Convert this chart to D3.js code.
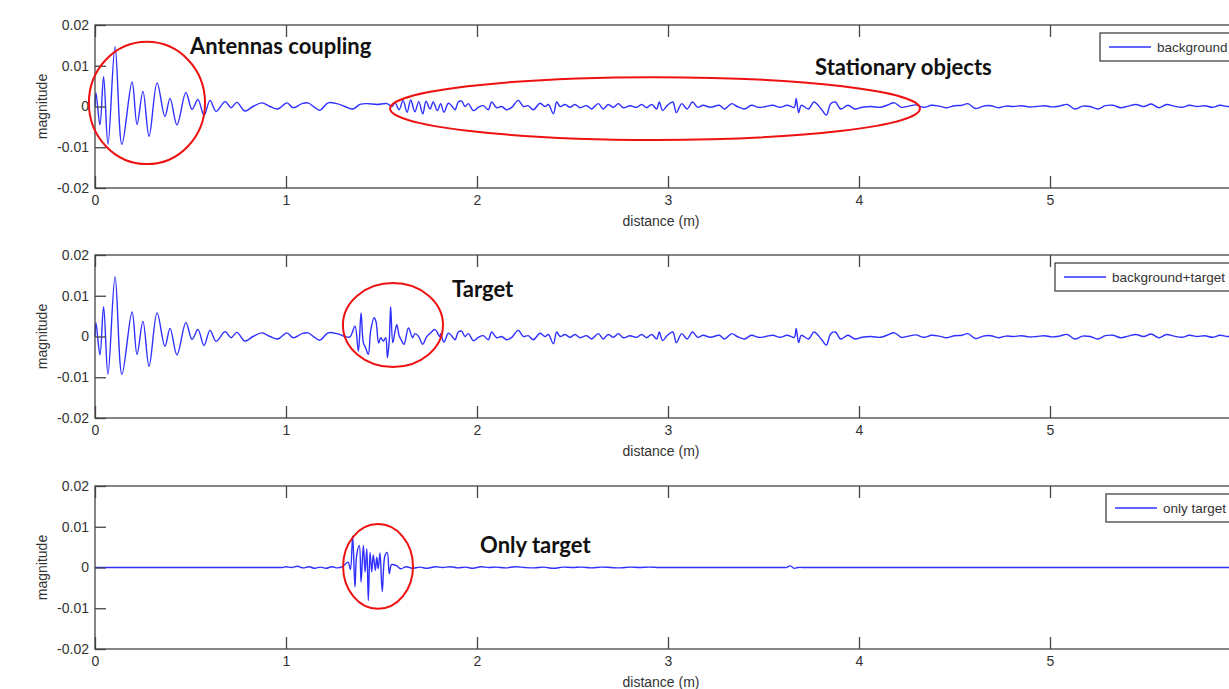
<!DOCTYPE html>
<html>
<head>
<meta charset="utf-8">
<script src="https://cdn.jsdelivr.net/npm/d3@7"></script>
<style>
  body { margin: 0; background: #fff; }
  svg { display: block; }
  .tick text, .lbl, .legend text { font-family: 'Liberation Sans', Arial, sans-serif; fill: #333; }
  .note { font-family: Lato, 'Open Sans', sans-serif; font-weight: bold; fill: #111; }
</style>
</head>
<body>
<div id="chart"></div>
<script>
// distance (m), magnitude x 1e-3
var couplingWave = [[0,0],[0.005,3.4],[0.026,-4.5],[0.045,7.3],[0.068,-9.3],[0.105,14.7],[0.141,-9.3],
  [0.194,6.0],[0.220,-4.4],[0.251,3.7],[0.283,-7.3],[0.325,5.8],[0.366,-2.4],[0.393,2.0],[0.429,-4.5],
  [0.476,3.4],[0.508,-0.7],[0.539,1.7],[0.571,-2.2],[0.602,1.5],[0.634,-1.2],[0.681,1.2],[0.712,-0.3]];

var quietWave = [[0.743,1.0],[0.785,-1.1],[0.827,0],[0.874,0.9],[0.916,0],[0.958,-0.6],[1.005,0.9],
  [1.037,-0.3],[1.084,0.7],[1.115,0.9],[1.152,-0.3],[1.178,-0.9],[1.220,0.9],[1.267,0.7],[1.309,0],
  [1.351,-0.6],[1.387,0.5],[1.424,0.7],[1.476,0.5],[1.529,0.7],[1.555,0]];

var stationaryWave = [[1.571,0.9],[1.592,-0.8],[1.613,1.5],[1.634,-1.4],[1.653,1.6],[1.675,-1.3],[1.695,1.2],
  [1.716,-1.8],[1.733,1.3],[1.754,-0.6],[1.771,1.1],[1.792,-1.0],[1.810,0.7],[1.827,-1.4],[1.850,0.8],
  [1.867,0.2],[1.885,-0.8],[1.902,1.1],[1.920,1.3],[1.937,0],[1.955,0.7],[1.981,-1.0],[2.007,-0.2],
  [2.033,0.2],[2.059,-0.8],[2.077,1.1],[2.103,-0.3],[2.129,0],[2.155,-0.8],[2.182,-0.2],[2.216,1.5],
  [2.243,0],[2.268,0.2],[2.295,-0.8],[2.330,0.8],[2.356,0],[2.374,0.5],[2.400,-1.8],[2.417,1.1],
  [2.435,0],[2.461,0.5],[2.487,-0.2],[2.513,0.5],[2.539,-0.3],[2.574,0.2],[2.600,-0.6],[2.635,0.7],
  [2.661,-0.6],[2.687,0.5],[2.714,-0.2],[2.740,0.7],[2.766,-0.3],[2.801,0.2],[2.836,-0.2],[2.862,0.5],
  [2.888,-0.3],[2.915,0.5],[2.941,-0.6],[2.954,1.1],[2.972,-1.0],[2.997,0.3],[3.025,1.1],[3.044,-1.5],
  [3.072,0.7],[3.100,-0.6],[3.128,1.1],[3.156,-0.2],[3.184,0.3],[3.222,-0.2],[3.269,0.3],[3.296,-0.6],
  [3.334,0.7],[3.362,0],[3.400,-0.6],[3.437,0.3],[3.474,-0.2],[3.512,0],[3.549,0.3],[3.586,-0.2],
  [3.624,0.3],[3.661,-0.2],[3.671,2.0],[3.684,-1.5],[3.698,0.3],[3.736,-0.6],[3.764,1.1],[3.802,-0.6],
  [3.829,-2.1],[3.852,0.7],[3.876,1.1],[3.904,-0.6],[3.942,0.3],[3.979,-0.6],[4.016,-0.2],[4.063,0],
  [4.110,-0.2],[4.147,0.3],[4.185,0.9],[4.222,-0.2],[4.260,0.1],[4.297,0.4]];

var tailWave = [[4.34,-0.2],[4.38,0.3],[4.42,0.1],[4.46,-0.3],[4.50,0.2],[4.54,0.3],[4.57,0.7],[4.61,-0.5],
  [4.65,0.1],[4.69,0.2],[4.73,-0.3],[4.77,0.1],[4.81,0],[4.85,0.2],[4.89,-0.1],[4.93,0],[4.97,0.2],
  [5.01,-0.1],[5.05,0.1],[5.09,0.5],[5.13,-0.6],[5.17,0.1],[5.21,0],[5.25,-0.6],[5.29,0.2],[5.33,0.3],
  [5.37,-0.3],[5.41,0.1],[5.45,0.5],[5.49,0],[5.53,0.6],[5.57,-0.3],[5.61,0.5],[5.65,0.1],[5.69,-0.2],
  [5.73,0.3],[5.77,0],[5.81,0.2],[5.85,-0.2],[5.89,0.3],[5.93,0],[5.97,0.2],[6.01,-0.1],[6.05,0.1],
  [6.09,0.3],[6.13,-0.2],[6.17,0.1],[6.21,0],[6.40,0.1]];

// middle panel, the part that differs from the background trace
var mixedTargetWave = [[1.335,-0.1],[1.361,2.5],[1.379,-3.6],[1.393,5.8],[1.405,-1.5],[1.417,-2.8],
  [1.431,-4.4],[1.443,1.3],[1.461,4.6],[1.471,3.7],[1.485,-1.6],[1.496,-0.3],[1.510,-1.1],[1.522,-0.3],
  [1.531,-5.2],[1.541,-0.7],[1.548,7.4],[1.559,-1.5],[1.571,1.3],[1.580,2.9],[1.593,0.1],[1.606,-1.1],
  [1.618,-1.9],[1.641,2.1],[1.663,-0.3],[1.675,0.7],[1.693,0.1],[1.716,-1.9],[1.736,-0.1],[1.757,0.9],
  [1.780,1.7],[1.806,-0.1]];

var onlyTargetWave = [[0,0],[0.50,0],[0.95,0],[0.98,0],[1.00,0.2],[1.03,0],[1.06,0.3],[1.09,-0.1],[1.12,0.2],
  [1.15,-0.2],[1.18,0.1],[1.21,-0.2],[1.24,0.2],[1.27,-0.1],[1.298,0.3],[1.325,1.3],[1.337,-0.5],[1.349,7.7],
  [1.361,-4.8],[1.370,3.0],[1.384,5.4],[1.393,-3.6],[1.405,5.4],[1.414,-1.1],[1.423,4.6],[1.431,-8.1],
  [1.440,3.7],[1.449,-1.1],[1.457,3.1],[1.468,-0.7],[1.475,2.5],[1.483,-0.3],[1.492,3.6],[1.504,-5.9],
  [1.518,2.9],[1.530,3.7],[1.541,-1.5],[1.553,0.7],[1.580,0.4],[1.60,-0.3],[1.63,0.2],[1.66,-0.2],
  [1.70,0.1],[1.74,-0.2],[1.78,0.2],[1.82,0],[1.86,0.2],[1.90,-0.1],[1.94,0.1],[1.98,-0.2],[2.02,0.2],
  [2.06,0],[2.10,0.1],[2.15,-0.1],[2.20,0.2],[2.25,0],[2.30,-0.1],[2.35,0.1],[2.40,-0.2],[2.45,0.1],
  [2.50,0],[2.55,0.1],[2.60,-0.1],[2.65,0.1],[2.70,0],[2.75,-0.1],[2.80,0.1],[2.85,0],[2.90,0.1],
  [2.95,0],[3.00,0],[3.30,0],[3.60,0],[3.62,0],[3.64,0.4],[3.66,-0.2],[3.68,0],[3.72,0],[4.0,0],
  [4.5,0],[5.0,0],[5.5,0],[6.0,0],[6.40,0]];

var xTicks = [0, 1, 2, 3, 4, 5];
var yTicks = [-0.02, -0.01, 0, 0.01, 0.02];
var legendNames = ['background', 'background+target', 'only target'];

// annotations: [text, distance, magnitude] and ellipses [distance, magnitude, rx (m), ry (magnitude)]
var noteTexts = [[['Antennas coupling', 0.497, 0.0129], ['Stationary objects', 3.77, 0.0077]],
                 [['Target', 1.869, 0.0097]],
                 [['Only target', 2.016, 0.0036]]];
var noteRings = [[[0.272, 0.00086, 0.304, 0.0150], [2.932, -0.0005, 1.387, 0.0077]],
                 [[1.560, 0.0028, 0.262, 0.0103]],
                 [[1.482, 0.00025, 0.183, 0.0104]]];

var background = couplingWave.concat(quietWave, stationaryWave, tailWave);
var withTarget = background.filter(function(p) { return p[0] < 1.335; })
  .concat(mixedTargetWave, background.filter(function(p) { return p[0] > 1.806; }));
var seriesList = [background, withTarget, onlyTargetWave];

var W = 1229, H = 689;
var panelTops = [25, 255, 486], panelH = 163;
var legendLeft = [1100, 1055, 1106];
var traceColor = '#3030ff';

var svg = d3.select('#chart').append('svg').attr('width', W).attr('height', H);

var x = d3.scaleLinear().domain([0, 6.5]).range([95, 95 + 6.5 * 191]);

var fmt = function(d) { return String(+d.toFixed(2)); };

seriesList.forEach(function(series, i) {
  var top = panelTops[i];
  var y = d3.scaleLinear().domain([-0.02, 0.02]).range([top + panelH, top]);
  var g = svg.append('g').attr('class', 'panel');

  var line = d3.line()
    .x(function(d) { return x(d[0]); })
    .y(function(d) { return y(d[1] * 1e-3); })
    .curve(d3.curveCatmullRom.alpha(0.5));

  g.append('path').datum(series)
    .attr('d', line)
    .attr('fill', 'none')
    .attr('stroke', traceColor)
    .attr('stroke-width', 1.4);

  // axes, Matlab style: ticks pointing inward on all sides
  var bottom = g.append('g').attr('transform', 'translate(0,' + (top + panelH) + ')')
    .call(d3.axisBottom(x).tickValues(xTicks).tickSize(-12).tickPadding(7).tickFormat(fmt));
  var topAx = g.append('g').attr('transform', 'translate(0,' + top + ')')
    .call(d3.axisTop(x).tickValues(xTicks).tickSize(-12).tickFormat(''));
  var left = g.append('g').attr('transform', 'translate(95,0)')
    .call(d3.axisLeft(y).tickValues(yTicks).tickSize(-11).tickPadding(6).tickFormat(fmt));
  [bottom, topAx, left].forEach(function(a) {
    a.select('.domain').remove();
    a.selectAll('line').attr('stroke', '#444').attr('stroke-width', 1.3);
    a.selectAll('text').attr('font-size', 14);
  });
  bottom.selectAll('text').attr('dy', '0.71em');

  g.append('rect')
    .attr('x', 95).attr('y', top)
    .attr('width', x.range()[1] - 95).attr('height', panelH)
    .attr('fill', 'none').attr('stroke', '#444').attr('stroke-width', 1.3);

  g.append('text').attr('class', 'lbl')
    .attr('x', 661).attr('y', top + panelH + 38)
    .attr('text-anchor', 'middle').attr('font-size', 14)
    .text('distance (m)');

  g.append('text').attr('class', 'lbl')
    .attr('transform', 'translate(47,' + (top + panelH / 2) + ') rotate(-90)')
    .attr('text-anchor', 'middle').attr('font-size', 14)
    .text('magnitude');

  // legend
  var lg = g.append('g').attr('class', 'legend').attr('transform', 'translate(' + legendLeft[i] + ',' + (top + 8) + ')');
  var box = lg.append('rect').attr('height', 28).attr('fill', '#fff').attr('stroke', '#444').attr('stroke-width', 1.3);
  lg.append('line').attr('x1', 9).attr('x2', 51).attr('y1', 14).attr('y2', 14)
    .attr('stroke', traceColor).attr('stroke-width', 1.4);
  var lt = lg.append('text').attr('x', 57).attr('y', 19).attr('font-size', 13.5).text(legendNames[i]);
  box.attr('width', 57 + lt.node().getComputedTextLength() + 12);

  // red rings and notes
  noteRings[i].forEach(function(r) {
    g.append('ellipse')
      .attr('cx', x(r[0])).attr('cy', y(r[1]))
      .attr('rx', x(r[2]) - x(0)).attr('ry', y(0) - y(r[3]))
      .attr('fill', 'none').attr('stroke', '#ee1111').attr('stroke-width', 2);
  });
  noteTexts[i].forEach(function(t) {
    g.append('text').attr('class', 'note')
      .attr('x', x(t[1])).attr('y', y(t[2]))
      .attr('font-size', 22)
      .text(t[0]);
  });
});
</script>
</body>
</html>
